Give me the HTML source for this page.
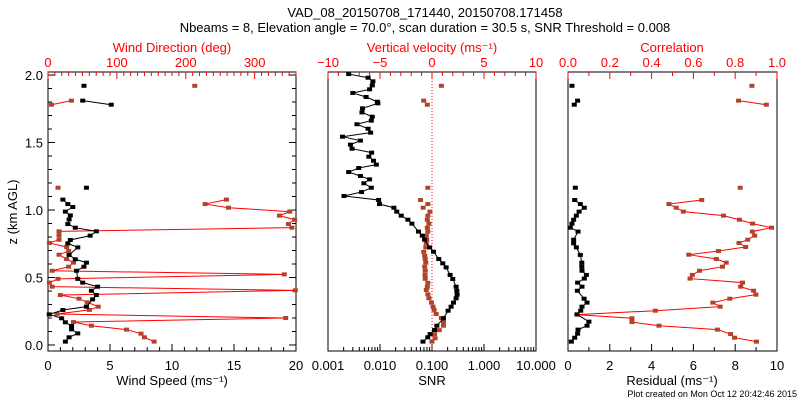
<!DOCTYPE html>
<html><head><meta charset="utf-8"><style>
body{margin:0;background:#fff}
svg{display:block;font-family:"Liberation Sans","DejaVu Sans",sans-serif}
</style></head><body>
<svg id="c" width="800" height="400" viewBox="0 0 800 400">
<text x="425" y="17" font-size="13" text-anchor="middle">VAD_08_20150708_171440, 20150708.171458</text>
<text x="425" y="32" font-size="13" text-anchor="middle">Nbeams = 8, Elevation angle = 70.0°, scan duration = 30.5 s, SNR Threshold = 0.008</text>
<text x="797" y="397" font-size="9" text-anchor="end">Plot created on Mon Oct 12 20:42:46 2015</text>
</svg>
<script>
// Panel 1: wind speed (black) and direction (red)
const p1Lone = [1.92, 1.165];
const p1LoneSpd = [2.9, 3.1];
const p1LoneDirZ = [1.92, 1.165];
const p1LoneDir = [213, 14.5];
const p1PairZ = [1.81, 1.78];
const p1PairSpd = [2.8, 5.1];
const p1PairDir = [34, 5];
const p1SpdZ = [1.077,1.044,1.022,0.988,0.96,0.93,0.896,0.869,0.842,0.81,0.778,0.753,0.723,0.667,0.635,0.61,0.58,0.55,0.49,0.462,0.432,0.402,0.37,0.338,0.284,0.259,0.227,0.198,0.168,0.141,0.116,0.086,0.057,0.025];
const p1Spd = [1.2,1.6,2.0,1.4,1.8,1.7,1.6,2.2,3.9,3.4,1.8,1.6,2.4,1.7,2.2,3.1,2.9,2.3,2.4,2.8,4.0,3.5,3.9,3.6,3.1,1.2,0.1,1.1,1.4,1.9,1.9,2.4,1.7,1.4];
const p1DirZ = [1.077,1.044,1.017,0.988,0.958,0.928,0.896,0.869,0.842,0.812,0.78,0.756,0.726,0.696,0.669,0.637,0.61,0.58,0.55,0.523,0.49,0.462,0.432,0.405,0.37,0.343,0.316,0.284,0.26,0.23,0.2,0.17,0.143,0.114,0.084,0.057,0.025];
const p1Dir = [259,228,262,351,336,358,349,354,16,16,16,2,27,30,16,27,37,30,6,343,14.5,2,6,359,18,45,57,73,60,13,345,37,63,114,135,140,154];
// Panel 2: SNR (black) and vertical velocity (red)
const p2SnrZ = [2.007,1.98,1.953,1.923,1.894,1.867,1.837,1.802,1.79,1.753,1.723,1.691,1.662,1.635,1.602,1.573,1.543,1.514,1.484,1.454,1.425,1.395,1.365,1.336,1.311,1.281,1.252,1.227,1.198,1.165,1.133,1.104,1.074,1.044,1.017,0.988,0.958,0.928,0.899,0.84,0.81,0.78,0.723,0.691,0.637,0.605,0.575,0.519,0.489,0.432,0.402,0.373,0.346,0.314,0.284,0.254,0.198,0.143,0.111,0.081,0.057,0.025];
const p2Snr = [.0025,.0059,.0073,.0071,.0063,.0030,.0054,.0089,.0091,.0046,.0045,.0071,.0068,.0036,.0059,.0066,.0019,.0042,.0027,.0029,.0069,.0061,.0075,.0085,.0039,.0025,.0042,.0063,.0049,.0068,.0044,.00203,.0094,.0098,.0185,.021,.0256,.0344,.041,.055,.065,.072,.090,.107,.135,.161,.187,.223,.251,.291,.300,.304,.291,.259,.233,.204,.166,.124,.112,.092,.083,.067];
const p2VelZ = [1.92,1.81,1.78,1.165,1.074,1.044,1.017,0.988,0.958,0.928,0.899,0.869,0.84,0.81,0.78,0.753,0.723,0.69,0.66,0.637,0.61,0.58,0.55,0.519,0.49,0.46,0.43,0.407,0.375,0.346,0.314,0.284,0.26,0.23,0.2,0.17,0.143,0.11,0.08,0.05,0.025];
const p2Vel = [0.9,-0.8,-0.45,-0.4,-1.1,-0.4,-0.85,-0.2,-0.4,-0.45,-0.3,-0.45,-0.4,-0.55,-0.5,-0.55,-0.6,-0.8,-0.7,-0.65,-0.6,-0.7,-0.65,-0.67,-0.65,-0.4,-0.45,-0.55,-0.4,-0.3,-0.05,0.1,0.2,0.4,0.9,1.1,1.1,0.7,0.25,0.3,0];
// Panel 3: residual (black) and correlation (red)
const p3LoneZ = [1.92, 1.165];
const p3LoneRes = [0.19, 0.35];
const p3LoneCor = [0.88, 0.824];
const p3PairZ = [1.81, 1.78];
const p3PairRes = [0.46, 0.3];
const p3PairCor = [0.816, 0.949];
const p3ResZ = [1.074,1.044,1.017,0.988,0.958,0.928,0.899,0.869,0.84,0.78,0.753,0.723,0.667,0.61,0.58,0.55,0.519,0.492,0.462,0.432,0.402,0.343,0.314,0.284,0.254,0.227,0.173,0.143,0.114,0.084,0.054,0.025];
const p3Res = [.32,.59,.78,.53,.4,.27,.19,.11,.48,.27,.27,.4,.59,.66,.66,.67,.88,.78,.46,.67,.45,.77,.91,.67,.61,.43,1.0,.91,.48,.46,.32,.16];
const p3CorZ = [1.074,1.044,1.017,0.988,0.958,0.928,0.899,0.869,0.84,0.81,0.78,0.756,0.726,0.696,0.669,0.637,0.61,0.58,0.55,0.519,0.492,0.462,0.432,0.402,0.373,0.343,0.314,0.284,0.254,0.225,0.198,0.17,0.143,0.114,0.081,0.054,0.025];
const p3Cor = [.64,.483,.518,.552,.744,.82,.883,.974,.882,.893,.86,.818,.85,.72,.578,.71,.757,.739,.629,.595,.584,.835,.826,.888,.899,.774,.693,.728,.418,.043,.306,.306,.435,.715,.778,.797,.902];
const zTicks = [0,0.5,1.0,1.5,2.0];

const NS='http://www.w3.org/2000/svg', svg=document.getElementById('c');
const RED='#ff0000', BR='#b2432a';
function el(t,a,p){const e=document.createElementNS(NS,t);for(const k in a)e.setAttribute(k,a[k]);(p||svg).appendChild(e);return e;}
const TOP=72,BOT=351;
const zy=z=>345-135*z;
function txt(x,y,s,anchor,col,name,size){const t=el('text',{x:x,y:y,'font-size':size||13,'text-anchor':anchor||'middle',fill:col||'#000'});t.textContent=s;

return t;}
function frame(x0,x1,name){const r=el('rect',{x:x0,y:TOP,width:x1-x0,height:BOT-TOP,fill:'none',stroke:'#000','stroke-width':1});

}
function tick(x,y1,y2,col){el('line',{x1:x,x2:x,y1:y1,y2:y2,stroke:col,'stroke-width':1});}
function linTicks(x0,x1,vmin,vmax,major,minor,top,col,labels,fmt,name){
  const sc=v=>x0+(v-vmin)/(vmax-vmin)*(x1-x0);
  for(let v=vmin;v<=vmax+1e-9;v+=minor){const isM=Math.abs(v/major-Math.round(v/major))<1e-6;const x=sc(v);
    if(top)tick(x,TOP,TOP+(isM?7:4),col);else tick(x,BOT,BOT-(isM?7:4),col);}
  if(labels)labels.forEach(v=>txt(sc(v),top?TOP-5:BOT+19,fmt(v),'middle',col,name));
}
function yTicks(x0,x1){
  for(let z=0;z<=2.0001;z+=0.1){const isM=Math.abs(z*2-Math.round(z*2))<1e-6;const y=zy(z);
    el('line',{x1:x0,x2:x0+(isM?7:4),y1:y,y2:y,stroke:'#000'});el('line',{x1:x1,x2:x1-(isM?7:4),y1:y,y2:y,stroke:'#000'});}
}
function marker(x,y,c,name){const m=el('rect',{x:x-2.5,y:y-2,width:5,height:4,fill:c});

}
function poly(xs,ys,c,name){const pts=xs.map((x,i)=>x+','+ys[i]).join(' ');const p=el('polyline',{points:pts,fill:'none',stroke:c,'stroke-width':1});

}

// Panel 1
const A0=48,A1=296;
const sx=v=>A0+v/20*(A1-A0), dx=d=>A0+d/360*(A1-A0);
frame(A0,A1,'wind-panel-frame');yTicks(A0,A1);
linTicks(A0,A1,0,20,5,1,false,'#000',[0,5,10,15,20],v=>String(v),'wind-speed-tick-label');
linTicks(A0,A1,0,360,100,10,true,RED,[0,100,200,300],v=>String(v),'wind-direction-tick-label');
zTicks.forEach(z=>txt(A0-5,zy(z)+5,z.toFixed(1),'end','#000','z-tick-label'));
txt(172,385,'Wind Speed (ms⁻¹)','middle','#000','wind-speed-axis-title');
txt(172,52,'Wind Direction (deg)','middle',RED,'wind-direction-axis-title');
const yt=txt(0,0,'z (km AGL)','middle','#000','z-axis-title');yt.setAttribute('transform','translate(17,212) rotate(-90)');
poly(p1Dir.map(dx),p1DirZ.map(zy),RED,'wind-direction-line');
poly(p1PairDir.map(dx),p1PairZ.map(zy),RED,'wind-direction-line-upper');
p1Dir.forEach((d,i)=>marker(dx(d),zy(p1DirZ[i]),BR,'wind-direction-point'));
p1PairDir.forEach((d,i)=>marker(dx(d),zy(p1PairZ[i]),BR,'wind-direction-point'));
p1LoneDir.forEach((d,i)=>marker(dx(d),zy(p1LoneDirZ[i]),BR,'wind-direction-point'));
poly(p1Spd.map(sx),p1SpdZ.map(zy),'#000','wind-speed-line');
poly(p1PairSpd.map(sx),p1PairZ.map(zy),'#000','wind-speed-line-upper');
p1Spd.forEach((v,i)=>marker(sx(v),zy(p1SpdZ[i]),'#000','wind-speed-point'));
p1PairSpd.forEach((v,i)=>marker(sx(v),zy(p1PairZ[i]),'#000','wind-speed-point'));
p1LoneSpd.forEach((v,i)=>marker(sx(v),zy(p1Lone[i]),'#000','wind-speed-point'));

// Panel 2
const B0=328,B1=536;
const lx=s=>B0+(Math.log10(s)+3)/4*(B1-B0), vx=v=>B0+(v+10)/20*(B1-B0);
frame(B0,B1,'snr-panel-frame');
for(let d=-3;d<1;d++)for(let m=1;m<=9;m++){const x=lx(m*Math.pow(10,d));tick(x,BOT,BOT-(m==1?7:4),'#000');}
tick(B1,BOT,BOT-7,'#000');
[0.001,0.01,0.1,1,10].forEach(v=>txt(lx(v),BOT+19,v.toFixed(3),'middle','#000','snr-tick-label'));
linTicks(B0,B1,-10,10,5,1,true,RED,[-10,-5,0,5,10],v=>v<0?'−'+(-v):String(v),'vertical-velocity-tick-label');
txt(432,385,'SNR','middle','#000','snr-axis-title');
txt(432,52,'Vertical velocity (ms⁻¹)','middle',RED,'vertical-velocity-axis-title');
const zl=el('line',{x1:vx(0),x2:vx(0),y1:TOP,y2:BOT,stroke:RED,'stroke-dasharray':'1,2'});


p2Vel.forEach((v,i)=>marker(vx(v),zy(p2VelZ[i]),BR,'vertical-velocity-point'));
poly(p2Snr.map(lx),p2SnrZ.map(zy),'#000','snr-line');
p2Snr.forEach((s,i)=>marker(lx(s),zy(p2SnrZ[i]),'#000','snr-point'));

// Panel 3
const C0=568,C1=777;
const rx=v=>C0+v/10*(C1-C0), cx=v=>C0+v*(C1-C0);
frame(C0,C1,'residual-panel-frame');
linTicks(C0,C1,0,10,2,1,false,'#000',[0,2,4,6,8,10],v=>String(v),'residual-tick-label');
linTicks(C0,C1,0,1,0.2,0.1,true,RED,[0,0.2,0.4,0.6,0.8,1.0],v=>v.toFixed(1),'correlation-tick-label');
txt(672,385,'Residual (ms⁻¹)','middle','#000','residual-axis-title');
txt(672,52,'Correlation','middle',RED,'correlation-axis-title');
poly(p3Cor.map(cx),p3CorZ.map(zy),RED,'correlation-line');
poly(p3PairCor.map(cx),p3PairZ.map(zy),RED,'correlation-line-upper');
p3Cor.forEach((v,i)=>marker(cx(v),zy(p3CorZ[i]),BR,'correlation-point'));
p3PairCor.forEach((v,i)=>marker(cx(v),zy(p3PairZ[i]),BR,'correlation-point'));
p3LoneCor.forEach((v,i)=>marker(cx(v),zy(p3LoneZ[i]),BR,'correlation-point'));
poly(p3Res.map(rx),p3ResZ.map(zy),'#000','residual-line');
poly(p3PairRes.map(rx),p3PairZ.map(zy),'#000','residual-line-upper');
p3Res.forEach((v,i)=>marker(rx(v),zy(p3ResZ[i]),'#000','residual-point'));
p3PairRes.forEach((v,i)=>marker(rx(v),zy(p3PairZ[i]),'#000','residual-point'));
p3LoneRes.forEach((v,i)=>marker(rx(v),zy(p3LoneZ[i]),'#000','residual-point'));
</script>
</body></html>
